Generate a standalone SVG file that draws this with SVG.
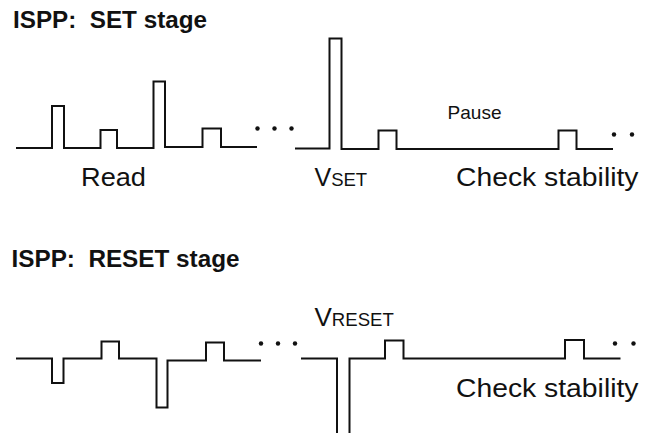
<svg xmlns="http://www.w3.org/2000/svg" width="646" height="433" viewBox="0 0 646 433">
  <style>
    .wave { fill: none; stroke: #111; stroke-width: 2; stroke-linejoin: miter; stroke-linecap: butt; }
    .dot { fill: #111; }
    .t { font-family: "Liberation Sans", Arial, sans-serif; fill: #111; white-space: pre; }
    .title { font-weight: bold; font-size: 23.5px; }
    .lbl { font-size: 26.5px; }
  </style>
  <rect width="646" height="433" fill="#fff"/>

  <g id="set-stage">
    <text class="t title" x="13" y="28" textLength="194" lengthAdjust="spacingAndGlyphs">ISPP:  SET stage</text>
    <g id="set-wave">
      <path class="wave" d="M16,148 H52 V106 H64 V148 H100.5 V130 H117 V148 H153.5 V81.5 H165 V147 H202.5 V128.5 H221 V147 H257"/>
      <circle class="dot" cx="257.5" cy="128.5" r="2.2"/>
      <circle class="dot" cx="274.5" cy="128.5" r="2.2"/>
      <circle class="dot" cx="291.5" cy="128.5" r="2.2"/>
      <path class="wave" d="M295,148.5 H329.5 V38.5 H341.5 V149 H378.5 V130.5 H396.5 V149 H558.5 V130.5 H576.5 V149 H613"/>
      <circle class="dot" cx="614" cy="134.5" r="2.2"/>
      <circle class="dot" cx="632" cy="134.5" r="2.2"/>
    </g>
    <text class="t" x="447.5" y="119.3" font-size="18.5" textLength="54" lengthAdjust="spacingAndGlyphs">Pause</text>
    <text class="t lbl" x="81" y="186" textLength="65" lengthAdjust="spacingAndGlyphs">Read</text>
    <text class="t" x="314.5" y="186"><tspan font-size="25">V</tspan><tspan font-size="17.5" textLength="36" lengthAdjust="spacingAndGlyphs">SET</tspan></text>
    <text class="t lbl" x="456" y="186" textLength="182.5" lengthAdjust="spacingAndGlyphs">Check stability</text>
  </g>

  <g id="reset-stage">
    <text class="t title" x="11.5" y="266.5" textLength="228" lengthAdjust="spacingAndGlyphs">ISPP:  RESET stage</text>
    <g id="reset-wave">
      <path class="wave" d="M16,358.5 H52 V383 H63.5 V358.5 H101.5 V341.5 H119 V358.5 H156.5 V407.5 H167.5 V360.5 H206 V342.5 H224 V360.5 H261"/>
      <circle class="dot" cx="261" cy="343.5" r="2.2"/>
      <circle class="dot" cx="278" cy="343.5" r="2.2"/>
      <circle class="dot" cx="295" cy="343.5" r="2.2"/>
      <path class="wave" d="M301,358.5 H337 V434"/>
      <path class="wave" d="M349.5,434 V358.5 H385 V340.5 H403.5 V358.5 H565 V340 H584 V358.5 H620.5"/>
      <circle class="dot" cx="615" cy="343.5" r="2.2"/>
      <circle class="dot" cx="633.5" cy="343.5" r="2.2"/>
    </g>
    <text class="t" x="314.5" y="326"><tspan font-size="26">V</tspan><tspan font-size="18.5" textLength="62" lengthAdjust="spacingAndGlyphs">RESET</tspan></text>
    <text class="t lbl" x="456" y="396.5" textLength="182.5" lengthAdjust="spacingAndGlyphs">Check stability</text>
  </g>
</svg>
